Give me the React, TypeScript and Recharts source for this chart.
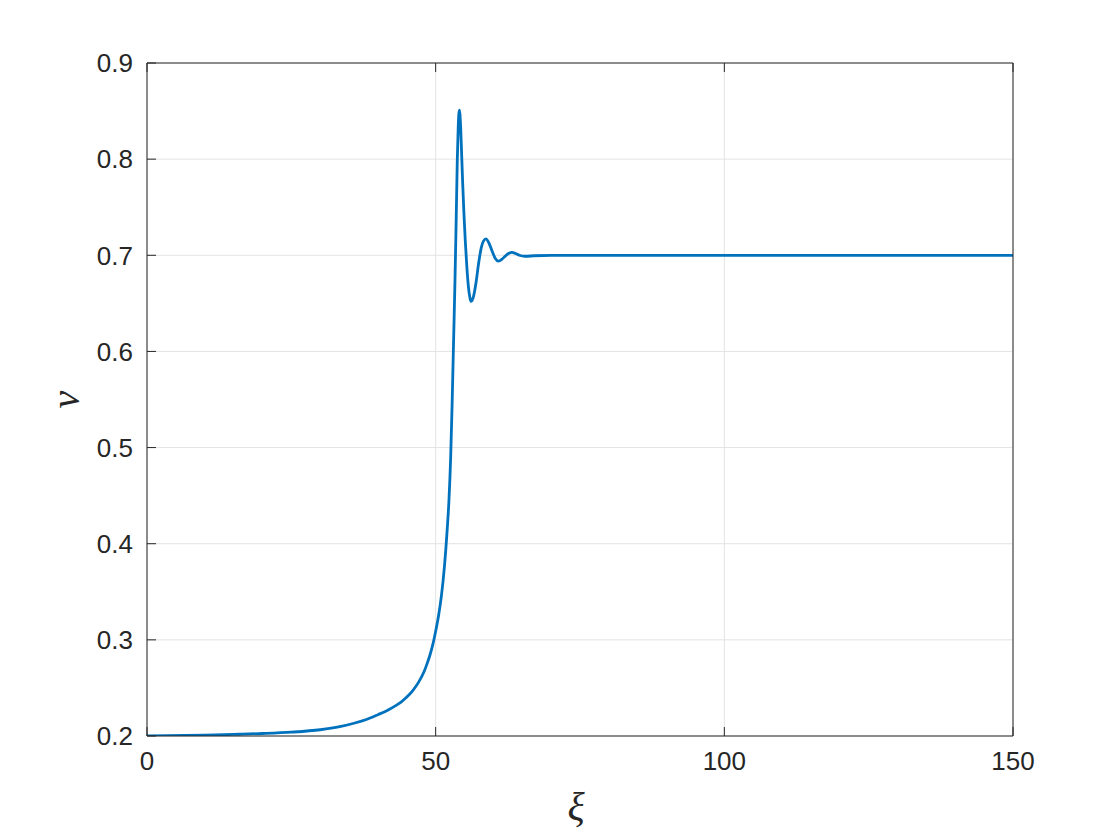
import React from 'react';
import { LineChart, Line, XAxis, YAxis, CartesianGrid, Label } from 'recharts';

const xiValues = [0, 10, 16, 20, 25, 30, 33.4, 36, 38, 39.2, 40, 41, 42, 43, 44, 45, 46, 47, 48, 48.5, 49, 49.5, 50, 50.5, 51, 51.5, 52, 52.3, 52.6, 52.85, 53.06, 53.2, 53.35, 53.5, 53.64, 53.75, 53.9, 54.0, 54.1, 54.2, 54.35, 54.5, 54.68, 54.9, 55.14, 55.4, 55.66, 55.9, 56.1, 56.5, 57, 57.4, 57.9, 58.3, 58.7, 59.2, 59.8, 60.3, 60.9, 61.5, 62.2, 62.7, 63.2, 63.8, 64.5, 65.5, 67, 70, 150];
const vValues = [0.2, 0.2008, 0.2018, 0.2026, 0.204, 0.2065, 0.2097, 0.2135, 0.2172, 0.22, 0.2222, 0.2248, 0.2278, 0.2313, 0.2353, 0.2405, 0.247, 0.2555, 0.267, 0.275, 0.284, 0.295, 0.309, 0.325, 0.346, 0.375, 0.415, 0.445, 0.49, 0.545, 0.6, 0.635, 0.675, 0.72, 0.765, 0.8, 0.832, 0.846, 0.851, 0.847, 0.83, 0.805, 0.775, 0.743, 0.714, 0.688, 0.668, 0.657, 0.652, 0.656, 0.672, 0.69, 0.708, 0.715, 0.717, 0.713, 0.704, 0.697, 0.694, 0.696, 0.7, 0.702, 0.703, 0.702, 0.7, 0.699, 0.6995, 0.7, 0.7];
const xTicks = [0, 50, 100, 150];
const yTicks = [0.2, 0.3, 0.4, 0.5, 0.6, 0.7, 0.8, 0.9];

const data = xiValues.map((x, i) => ({ x, v: vValues[i] }));

const axisColor = '#262626';
const tickFont = { fontFamily: '"Liberation Sans", Arial, Helvetica, sans-serif', fontSize: 26, fill: axisColor };

const Empty = () => <g />;

export default function App() {
  return (
    <div style={{ position: 'absolute', left: 0, top: 0, width: 1120, height: 840, background: '#fff' }}>
      <LineChart width={1120} height={840} data={data} margin={{ top: 33, right: 77, bottom: 74, left: 87 }}>
        <CartesianGrid xAxisId="b" yAxisId="l" stroke="#e3e3e3" strokeWidth={1} />
        <XAxis
          xAxisId="b"
          dataKey="x"
          type="number"
          domain={[0, 150]}
          ticks={xTicks}
          height={30}
          tickSize={-9}
          tickMargin={25}
          stroke={axisColor}
          tick={tickFont}
          allowDataOverflow
        >
          <Label
            content={(props: any) => {
              const vb = props.viewBox;
              return (
                <text x={vb.x + vb.width / 2 - 4} y={vb.y + 84} textAnchor="middle" fontFamily='"Liberation Serif", "Times New Roman", serif' fontStyle="italic" fontSize={40} fill={axisColor}>ξ</text>
              );
            }}
          />
        </XAxis>
        <XAxis
          xAxisId="t"
          orientation="top"
          dataKey="x"
          type="number"
          domain={[0, 150]}
          ticks={xTicks}
          height={30}
          tickSize={-9}
          stroke={axisColor}
          tick={Empty}
        />
        <YAxis
          yAxisId="l"
          type="number"
          domain={[0.2, 0.9]}
          ticks={yTicks}
          width={60}
          tickSize={-9}
          tickMargin={23}
          stroke={axisColor}
          tick={tickFont}
          tickFormatter={(v: number) => v.toFixed(1)}
          allowDataOverflow
        >
          <Label
            content={(props: any) => {
              const vb = props.viewBox;
              const cx = vb.x - 22;
              const cy = vb.y + vb.height / 2;
              return (
                <text x={cx} y={cy} transform={`rotate(-90, ${cx}, ${cy})`} textAnchor="middle" dominantBaseline="central" fontFamily='"Liberation Serif", "Times New Roman", serif' fontStyle="italic" fontSize={40} fill={axisColor}>v</text>
              );
            }}
          />
        </YAxis>
        <YAxis
          yAxisId="r"
          orientation="right"
          type="number"
          domain={[0.2, 0.9]}
          ticks={yTicks}
          width={30}
          tickSize={-9}
          stroke={axisColor}
          tick={Empty}
        />
        <Line
          xAxisId="b"
          yAxisId="l"
          type="monotone"
          dataKey="v"
          stroke="#0072BD"
          strokeWidth={2.8}
          dot={false}
          isAnimationActive={false}
        />
      </LineChart>
    </div>
  );
}
